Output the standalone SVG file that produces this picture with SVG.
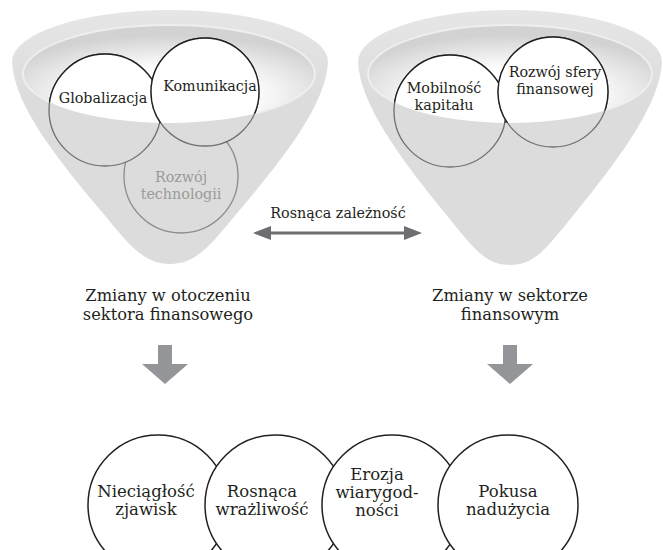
<svg xmlns="http://www.w3.org/2000/svg" width="663" height="550" viewBox="0 0 663 550">
<style>
  text { font-family: "DejaVu Serif", "Liberation Serif", serif; fill: #231f20; text-anchor: middle; }
  .t14 { font-size: 14.3px; }
  .t15 { font-size: 16.3px; }
  .t16 { font-size: 16.5px; }
  .cone { fill: url(#coneGrad); }
  .bowl { fill: url(#bowl); stroke: #eeeeee; stroke-width: 2; }
  .cg { fill: #dcdcdc; stroke: #6f6f6f; stroke-width: 1.3; }
  .cw { fill: #ffffff; stroke: #231f20; stroke-width: 1.4; }
  .cgl { fill: #dcdcdc; stroke: #8c8c8c; stroke-width: 1.3; }
  .grey { fill: #9a9a9a; }
  .ell { fill: #ffffff; stroke: #231f20; stroke-width: 1.5; }
  .blk { fill: #939598; }
  .dbl { fill: #6d6e71; }
</style>
<defs>
  <linearGradient id="coneGrad" x1="0" y1="0" x2="0" y2="1">
    <stop offset="0" stop-color="#e6e6e6"/>
    <stop offset="0.35" stop-color="#dcdcdc"/>
    <stop offset="1" stop-color="#dcdcdc"/>
  </linearGradient>
  <radialGradient id="bowl" cx="0.5" cy="0.72" r="0.62">
    <stop offset="0" stop-color="#ffffff"/>
    <stop offset="0.45" stop-color="#ffffff"/>
    <stop offset="1" stop-color="#d2d2d2"/>
  </radialGradient>
  <clipPath id="clipL"><ellipse cx="169" cy="74" rx="146" ry="49"/></clipPath>
  <clipPath id="clipR"><ellipse cx="510" cy="74" rx="142" ry="49"/></clipPath>
</defs>

<g id="funnel-left">
  <path class="cone" d="M 12,62 A 158,52 0 0 1 328,62 C 326,105 282,160 238,212 C 210,246 196,264 170,264 C 144,264 130,246 102,212 C 58,160 14,105 12,62 Z"/>
  <ellipse class="bowl" cx="169" cy="74" rx="146" ry="49"/>
</g>
<g id="funnel-right">
  <path class="cone" d="M 358,62 A 152,52 0 0 1 662,62 C 660,105 618,160 576,212 C 548,246 536,265 510,265 C 484,265 472,246 444,212 C 402,160 360,105 358,62 Z"/>
  <ellipse class="bowl" cx="510" cy="74" rx="142" ry="49"/>
</g>

<g id="n-rozwoj-technologii">
  <circle class="cgl" cx="181" cy="176" r="57"/>
  <text class="t14 grey" x="181" y="182">Rozwój</text>
  <text class="t14 grey" x="181" y="199">technologii</text>
</g>
<g id="n-globalizacja">
  <circle class="cg" cx="105" cy="110" r="56"/>
  <circle class="cw" cx="105" cy="110" r="56" clip-path="url(#clipL)"/>
  <text class="t14" x="103" y="103">Globalizacja</text>
</g>
<g id="n-komunikacja">
  <circle class="cg" cx="205" cy="92" r="54"/>
  <circle class="cw" cx="205" cy="92" r="54" clip-path="url(#clipL)"/>
  <text class="t14" x="210" y="91">Komunikacja</text>
</g>
<g id="n-mobilnosc">
  <circle class="cg" cx="450" cy="111" r="56"/>
  <circle class="cw" cx="450" cy="111" r="56" clip-path="url(#clipR)"/>
  <text class="t14" x="444" y="93">Mobilność</text>
  <text class="t14" x="444" y="110">kapitału</text>
</g>
<g id="n-rozwoj-sfery">
  <circle class="cg" cx="553" cy="92" r="55"/>
  <circle class="cw" cx="553" cy="92" r="55" clip-path="url(#clipR)"/>
  <text class="t14" x="555" y="77">Rozwój sfery</text>
  <text class="t14" x="555" y="94">finansowej</text>
</g>

<g id="label-zaleznosc">
  <text class="t14" x="338" y="218">Rosnąca zależność</text>
</g>
<g id="caption-left">
  <text class="t15" x="168" y="301">Zmiany w otoczeniu</text>
  <text class="t15" x="168" y="320">sektora finansowego</text>
</g>
<g id="caption-right">
  <text class="t15" x="510" y="301">Zmiany w sektorze</text>
  <text class="t15" x="510" y="320">finansowym</text>
</g>

<g id="connectors">
  <path class="dbl" d="M 253,233 L 271,226 L 271,231.4 L 404,231.4 L 404,226 L 422,233 L 404,240 L 404,234.6 L 271,234.6 L 271,240 Z"/>
  <path class="blk" d="M 158,345 L 172,345 L 172,364 L 188,364 L 165,384 L 142,364 L 158,364 Z"/>
  <path class="blk" d="M 503,345 L 517,345 L 517,364 L 533,364 L 510,384 L 487,364 L 503,364 Z"/>
</g>

<g id="n-nieciaglosc">
  <ellipse class="ell" cx="158" cy="505" rx="70" ry="70"/>
  <text class="t16" x="146" y="497">Nieciągłość</text>
  <text class="t16" x="146" y="515">zjawisk</text>
</g>
<g id="n-wrazliwosc">
  <ellipse class="ell" cx="275" cy="505" rx="70" ry="70"/>
  <text class="t16" x="262" y="497">Rosnąca</text>
  <text class="t16" x="262" y="515">wrażliwość</text>
</g>
<g id="n-erozja">
  <ellipse class="ell" cx="392" cy="505" rx="70" ry="70"/>
  <text class="t16" x="377" y="480">Erozja</text>
  <text class="t16" x="377" y="498">wiarygod-</text>
  <text class="t16" x="377" y="516">ności</text>
</g>
<g id="n-pokusa">
  <ellipse class="ell" cx="508" cy="505" rx="70" ry="70"/>
  <text class="t16" x="508" y="497">Pokusa</text>
  <text class="t16" x="508" y="515">nadużycia</text>
</g>
</svg>
